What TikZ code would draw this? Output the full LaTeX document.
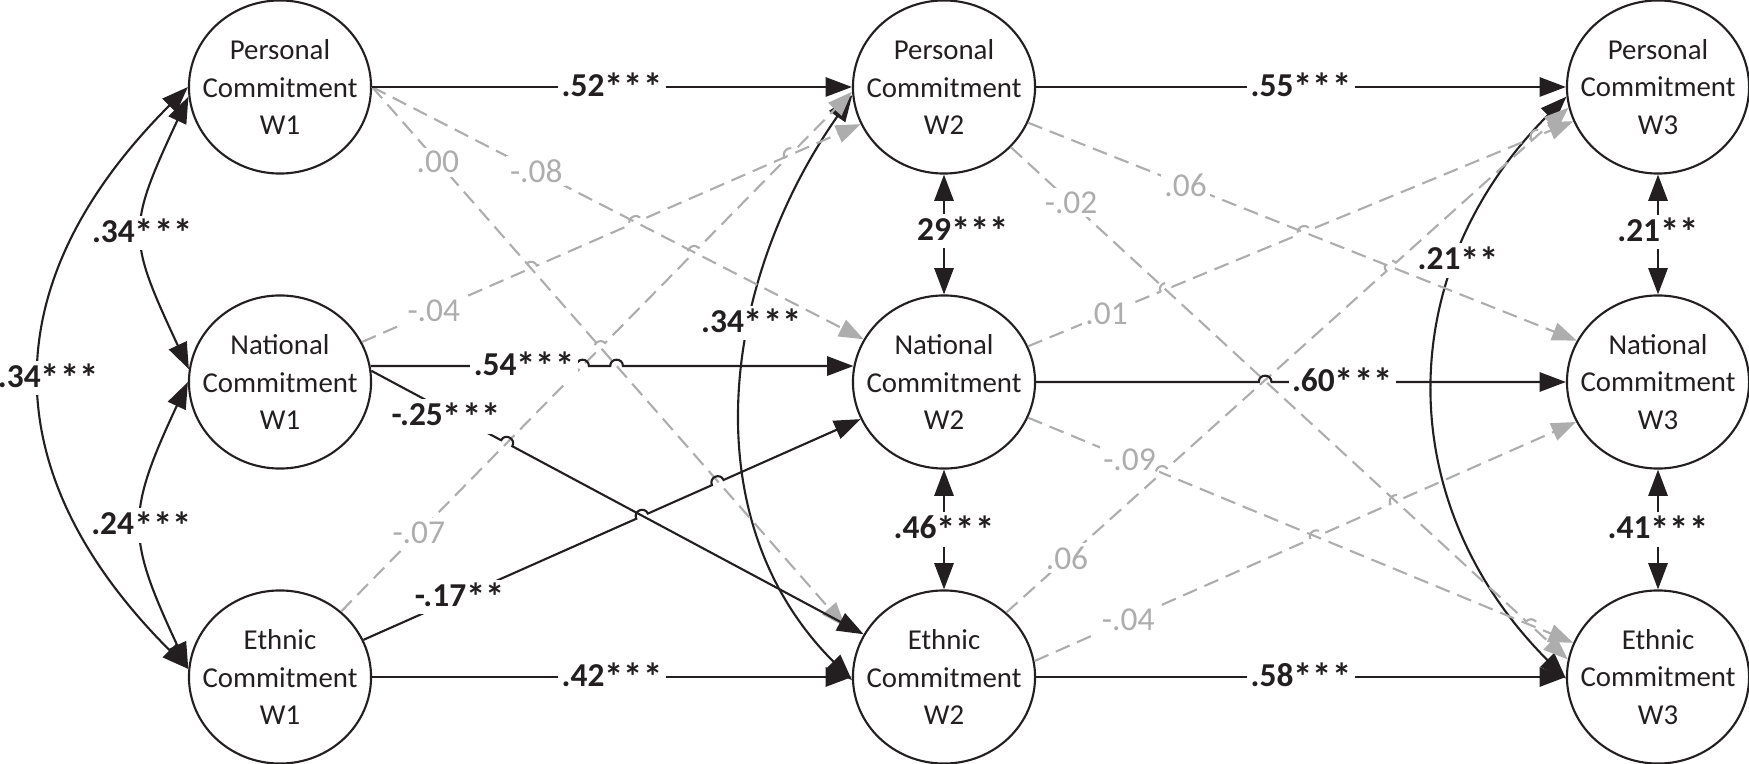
\documentclass[tikz,border=0pt]{standalone}
\usepackage{fontspec}
\setmainfont{Carlito}
\usetikzlibrary{arrows.meta,calc,shapes.geometric}
\definecolor{ink}{HTML}{231F20}
\definecolor{lgray}{HTML}{ADADAD}
% significance stars, a little larger as in the original typeface
\newcommand{\sst}[1]{{\fontsize{11}{11}\selectfont\raisebox{-0.25ex}{#1}}}
% line with small hops at the given fractions of its length
\newcommand{\hopline}[4][]{%
  \foreach \f [count=\i] in {#4} {%
    \path ($(#2)!\f!(#3)$) coordinate (hc\i);
    \path ($(hc\i)!1.8pt!(#2)$) coordinate (hs\i) ($(hc\i)!1.8pt!(#3)$) coordinate (he\i);
  }%
  \draw[#1] (#2) \foreach \f [count=\i] in {#4} { -- (hs\i) .. controls ($(hs\i)!2.4pt!90:(he\i)$) and ($(he\i)!2.4pt!-90:(hs\i)$) .. (he\i) } -- (#3);
}
\begin{document}
\begin{tikzpicture}[x=0.01cm,y=-0.01cm,
  lv/.style={ellipse, draw=ink, line width=0.6pt, fill=white, minimum width=1.82cm, minimum height=1.73cm,
    inner xsep=-4mm, inner ysep=0pt, align=center, text=ink, font=\fontsize{8.2}{10.6}\selectfont},
  sig/.style={draw=ink, line width=0.6pt, -{Triangle[length=7.5pt,width=5.5pt]}},
  nsig/.style={draw=lgray, line width=0.6pt, dash pattern=on 4.3pt off 2.3pt, -{Triangle[length=7pt,width=5.2pt]}},
  cov/.style={draw=ink, line width=0.6pt, {Triangle[length=7.5pt,width=5.5pt]}-{Triangle[length=7.5pt,width=5.5pt]}},
  blab/.style={fill=white, inner sep=1pt, text=ink, font=\fontsize{9.5}{11}\selectfont\bfseries},
  glab/.style={fill=white, inner sep=1pt, text=lgray, font=\fontsize{9.5}{11}\selectfont}]
\useasboundingbox (0,0) rectangle (1749,764);

% latent variables
\node[lv] (P1) at (280,87)  {Personal\\Commitment\\W1};
\node[lv] (N1) at (280,382) {National\\Commitment\\W1};
\node[lv] (E1) at (280,677) {Ethnic\\Commitment\\W1};
\node[lv] (P2) at (944,87)  {Personal\\Commitment\\W2};
\node[lv] (N2) at (944,382) {National\\Commitment\\W2};
\node[lv] (E2) at (944,677) {Ethnic\\Commitment\\W2};
\node[lv] (P3) at (1658,87)  {Personal\\Commitment\\W3};
\node[lv] (N3) at (1658,382) {National\\Commitment\\W3};
\node[lv] (E3) at (1658,677) {Ethnic\\Commitment\\W3};

% covariances
\draw[cov] (P1.180) to[out=225,in=135,looseness=1.22] node[blab,xshift=0.07cm]{.34\sst{***}} (E1.175);
\draw[cov] (P1.186) to[out=245,in=115,looseness=1.375] node[blab]{.34\sst{***}} (N1.172);
\draw[cov] (N1.180) to[out=245,in=115,looseness=1.31] node[blab]{.24\sst{***}} (E1.175);
\draw[cov] (P2.185) to[out=235,in=135,looseness=1] node[blab,pos=0.38]{.34\sst{***}} (E2.182);
\draw[cov] (P3.186) to[out=225,in=135,looseness=1.09] node[blab,pos=0.29]{.21\sst{**}} (E3.181);
\draw[cov] (P2.south) -- node[blab,pos=0.47,xshift=0.19cm]{29\sst{***}} (N2.north);
\draw[cov] (N2.south) -- node[blab]{.46\sst{***}} (E2.north);
\draw[cov] (P3.south) -- node[blab,pos=0.48]{.21\sst{**}} (N3.north);
\draw[cov] (N3.south) -- node[blab]{.41\sst{***}} (E3.north);

% non-significant paths W1 -> W2
\draw[nsig] (P1.east) -- node[glab,pos=0.334]{-.08} (N2.152);
\draw[nsig,shorten >=6pt] (P1.east) -- node[glab,pos=0.135]{.00} (E2.158);
\hopline[nsig]{N1.26}{P2.204}{0.339,0.549}
\path (N1.26) -- node[glab,pos=0.144]{-.04} (P2.204);
\hopline[nsig]{E1.47}{P2.183}{0.508,0.691,0.879}
\path (E1.47) -- node[glab,pos=0.152]{-.07} (P2.183);

% non-significant paths W2 -> W3
\draw[nsig] (P2.-23) -- node[glab,pos=0.287]{.06} (N3.153);
\hopline[nsig]{P2.-42}{E3.169}{0.934}
\path (P2.-42) -- node[glab,pos=0.108]{-.02} (E3.169);
\hopline[nsig]{N2.23}{P3.202}{0.2535,0.5063,0.9335}
\path (N2.23) -- node[glab,pos=0.144]{.01} (P3.202);
\draw[nsig] (N2.-23) -- node[glab,pos=0.186]{-.09} (E3.158);
\hopline[nsig]{E2.46}{P3.193}{0.2773,0.6845}
\path (E2.46) -- node[glab,pos=0.108]{.06} (P3.193);
\hopline[nsig]{E2.10}{N3.206}{0.52,0.6677}
\path (E2.10) -- node[glab,pos=0.173]{-.04} (N3.206);

% significant paths
\draw[sig] (P1.east) -- node[blab]{.52\sst{***}} (P2.west);
\draw[sig] (P2.east) -- node[blab]{.55\sst{***}} (P3.west);
\hopline[sig]{N1.10}{N2.170}{0.439,0.5095}
\path (N1.10) -- node[blab,pos=0.318]{.54\sst{***}} (N2.170);
\hopline[sig]{N2.east}{N3.west}{0.4323}
\path (N2.east) -- node[blab,pos=0.578]{.60\sst{***}} (N3.west);
\draw[sig] (E1.east) -- node[blab]{.42\sst{***}} (E2.west);
\draw[sig] (E2.east) -- node[blab]{.58\sst{***}} (E3.west);
\hopline[sig]{N1.7}{E2.152}{0.275}
\path (N1.7) -- node[blab,pos=0.152,yshift=-0.06cm]{-.25\sst{***}} (E2.152);
\hopline[sig]{E1.24}{N2.204}{0.5605,0.7127}
\path (E1.24) -- node[blab,pos=0.194]{-.17\sst{**}} (N2.204);
\end{tikzpicture}
\end{document}
